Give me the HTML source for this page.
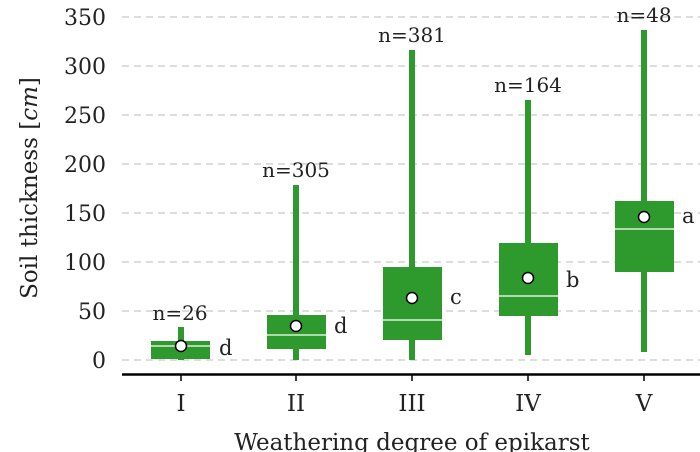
<!DOCTYPE html><html><head><style>body{margin:0;background:#fff}svg{display:block}text{font-family:"DejaVu Serif","Liberation Serif",serif;fill:#222}</style></head><body>
<svg width="700" height="452" viewBox="0 0 700 452">
<g stroke="#bbb" stroke-dasharray="7,5" stroke-width="1">
<line x1="122" x2="700" y1="360" y2="360"/><line x1="122" x2="700" y1="311" y2="311"/><line x1="122" x2="700" y1="262" y2="262"/><line x1="122" x2="700" y1="213" y2="213"/><line x1="122" x2="700" y1="164" y2="164"/><line x1="122" x2="700" y1="115" y2="115"/><line x1="122" x2="700" y1="66" y2="66"/><line x1="122" x2="700" y1="17" y2="17"/></g>
<g font-size="22" text-anchor="end"><text x="106" y="368">0</text><text x="106" y="319">50</text><text x="106" y="270">100</text><text x="106" y="221">150</text><text x="106" y="172">200</text><text x="106" y="123">250</text><text x="106" y="74">300</text><text x="106" y="25">350</text></g>
<text transform="translate(37,188) rotate(-90)" font-size="23" text-anchor="middle">Soil thickness [<tspan font-style="italic">cm</tspan>]</text>
<g fill="#2e9a2e" stroke="none">
<rect x="178" y="327" width="6" height="33"/><rect x="151" y="341" width="59" height="18"/>
<rect x="293" y="185" width="6" height="175"/><rect x="267" y="315" width="59" height="34"/>
<rect x="409" y="50" width="6" height="310"/><rect x="383" y="267" width="59" height="73"/>
<rect x="525" y="100" width="6" height="255"/><rect x="499" y="243" width="59" height="73"/>
<rect x="641" y="30" width="6" height="322"/><rect x="615" y="201" width="59" height="71"/>
</g>
<g stroke="#fff" stroke-width="1.2"><line x1="151" x2="210" y1="346" y2="346"/><line x1="267" x2="326" y1="335" y2="335"/><line x1="383" x2="442" y1="320" y2="320"/><line x1="499" x2="558" y1="296" y2="296"/><line x1="615" x2="674" y1="229" y2="229"/></g>
<g fill="#fff" stroke="#000" stroke-width="1.5"><circle cx="181" cy="346" r="5.5"/><circle cx="296" cy="326" r="5.5"/><circle cx="412" cy="298" r="5.5"/><circle cx="528" cy="278" r="5.5"/><circle cx="644" cy="217" r="5.5"/></g>
<g font-size="21"><text x="219" y="355">d</text><text x="334" y="333">d</text><text x="450" y="304">c</text><text x="566" y="287">b</text><text x="682" y="223">a</text></g>
<g font-size="20" text-anchor="middle"><text x="180" y="320">n=26</text><text x="296" y="177">n=305</text><text x="412" y="42">n=381</text><text x="528" y="92">n=164</text><text x="644" y="22">n=48</text></g>
<line x1="122" x2="700" y1="374.5" y2="374.5" stroke="#000" stroke-width="2.5"/>
<g stroke="#000" stroke-width="1.5"><line x1="181" x2="181" y1="374" y2="381"/><line x1="296" x2="296" y1="374" y2="381"/><line x1="412" x2="412" y1="374" y2="381"/><line x1="528" x2="528" y1="374" y2="381"/><line x1="644" x2="644" y1="374" y2="381"/></g>
<g font-size="23" text-anchor="middle"><text x="181" y="411">I</text><text x="296" y="411">II</text><text x="412" y="411">III</text><text x="528" y="411">IV</text><text x="644" y="411">V</text></g>
<text x="412" y="450" font-size="23" text-anchor="middle">Weathering degree of epikarst</text>
</svg></body></html>
